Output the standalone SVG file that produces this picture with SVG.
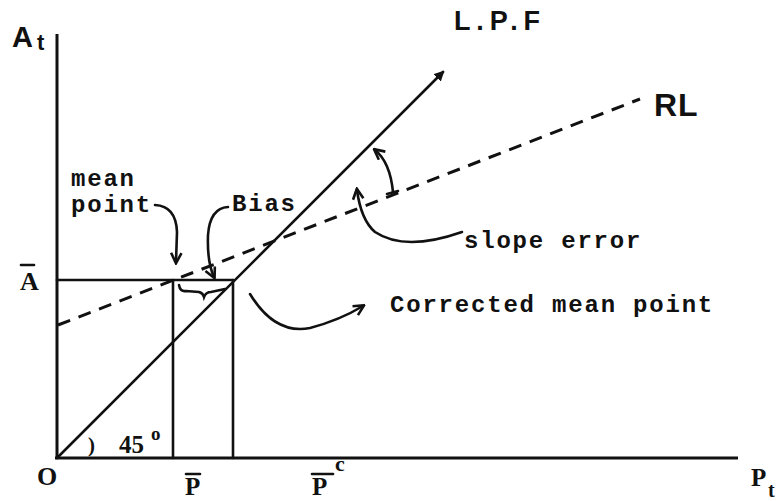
<svg xmlns="http://www.w3.org/2000/svg" width="783" height="501" viewBox="0 0 783 501">
<defs>
<style>
.ln{stroke:#111;stroke-width:2.6;fill:none;stroke-linecap:round}
.ax{stroke:#111;stroke-width:3;fill:none}
.dash{stroke:#111;stroke-width:3;fill:none;stroke-dasharray:13 9}
.mono{font-family:"Liberation Mono","DejaVu Sans Mono",monospace;font-weight:bold;font-size:24px;letter-spacing:1.8px;fill:#111}
.serif{font-family:"Liberation Serif","DejaVu Serif",serif;font-weight:bold;fill:#111}
.hand{font-family:"Liberation Sans","DejaVu Sans",sans-serif;font-weight:bold;fill:#111}
</style>
<marker id="ah" viewBox="0 0 10 10" refX="8" refY="5" markerWidth="5" markerHeight="5" orient="auto-start-reverse" markerUnits="strokeWidth">
<path d="M1,1 L9,5 L1,9" fill="none" stroke="#111" stroke-width="2"/>
</marker>
<marker id="ahf" viewBox="0 0 10 10" refX="8" refY="5" markerWidth="4" markerHeight="4" orient="auto" markerUnits="strokeWidth">
<path d="M0,0 L10,5 L0,10 z" fill="#111"/>
</marker>
</defs>
<g id="axes">
<line class="ax" x1="57" y1="34" x2="57" y2="459"/>
<line class="ax" x1="55" y1="458" x2="738" y2="458"/>
</g>
<g id="connectors">
<line id="lpf" class="ln" x1="57" y1="458" x2="443" y2="72" marker-end="url(#ahf)"/>
<line id="rl" class="dash" x1="58" y1="325" x2="640" y2="99"/>
<line class="ln" x1="57" y1="280" x2="233" y2="280"/>
<line class="ln" x1="173" y1="280" x2="173" y2="458"/>
<line class="ln" x1="233" y1="280" x2="233" y2="458"/>
<path class="ln" stroke-width="2" d="M179,285 Q180,292 186,291 L199,292 Q203,293 204,297 Q206,292 211,292 L225,289"/>
<path class="ln" d="M155,205 Q176,206 177,232 L176,262" marker-end="url(#ah)"/>
<path class="ln" d="M228,207 Q210,208 208,235 Q207,262 214,277" marker-end="url(#ah)"/>
<path class="ln" d="M393,192 Q390,162 375,150" marker-end="url(#ah)"/>
<line class="ln" x1="387" y1="194" x2="398" y2="191"/>
<path class="ln" d="M462,232 Q405,252 375,232 Q361,220 357,190" marker-end="url(#ah)"/>
<path class="ln" d="M250,294 Q275,335 310,328 Q340,320 363,306" marker-end="url(#ah)"/>
</g>
<g id="labels">
<text class="hand" x="12" y="47" font-size="29">A</text>
<text class="hand" x="37" y="50" font-size="22">t</text>
<text class="hand" x="454" y="30" font-size="27" textLength="86" lengthAdjust="spacing">L.P.F</text>
<text class="hand" x="654" y="116" font-size="32" letter-spacing="1">RL</text>
<text class="mono" x="71" y="186">mean</text>
<text class="mono" x="71" y="212">point</text>
<text class="mono" x="232" y="211">Bias</text>
<text class="mono" x="464" y="248">slope error</text>
<text class="mono" x="390" y="312">Corrected mean point</text>
<text class="serif" x="20" y="290" font-size="26">A</text>
<line class="ln" stroke-width="2.2" x1="21" y1="265" x2="34" y2="265"/>
<text class="serif" x="37" y="485" font-size="26">O</text>
<text class="serif" x="88" y="452" font-size="21" font-weight="normal">)</text>
<text class="serif" x="119" y="453" font-size="25" font-weight="normal">45</text>
<text class="serif" x="151" y="440" font-size="19" font-weight="normal">o</text>
<text class="serif" x="185" y="495" font-size="25">P</text>
<line class="ln" stroke-width="2.2" x1="186" y1="474" x2="200" y2="474"/>
<text class="serif" x="312" y="495" font-size="25">P</text>
<line class="ln" stroke-width="2.2" x1="312" y1="474" x2="333" y2="474"/>
<text class="serif" x="335" y="471" font-size="22">c</text>
<text class="serif" x="751" y="486" font-size="25">P</text>
<text class="serif" x="768" y="497" font-size="20">t</text>
</g>
</svg>
